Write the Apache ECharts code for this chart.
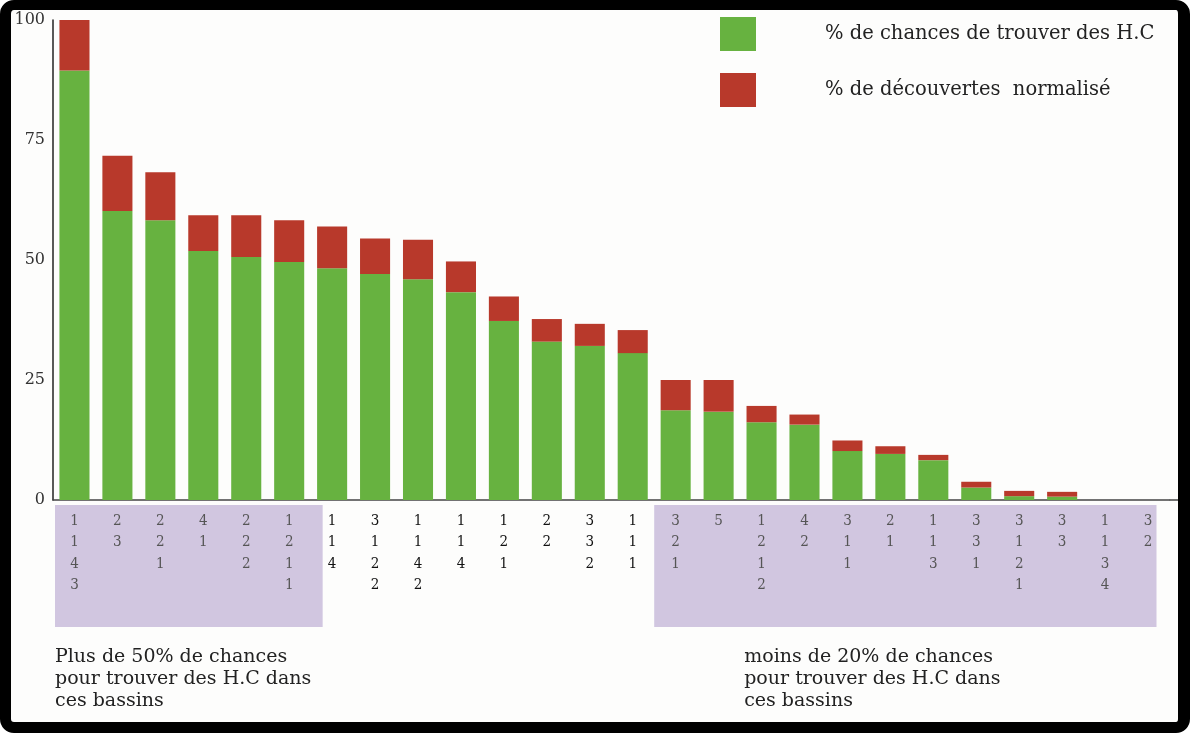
<!DOCTYPE html>
<html>
<head>
<meta charset="utf-8">
<script src="https://cdn.jsdelivr.net/npm/echarts@6/dist/echarts.min.js"></script>
<style>
  html, body { margin: 0; padding: 0; background: #ffffff; }
  #frame { position: absolute; left: 0; top: 0; width: 1190px; height: 733px; box-sizing: border-box;
           border-style: solid; border-color: #000; border-width: 10px 12px 11px 11px; border-radius: 14px; background: #fdfdfc; }
  #chart { position: absolute; left: 0; top: 0; width: 1190px; height: 733px; }
</style>
</head>
<body>
<div id="frame"></div>
<div id="chart"></div>
<script>
// Basin code labels (one digit per line)
const categories = ['1\n1\n4\n3','2\n3','2\n2\n1','4\n1','2\n2\n2','1\n2\n1\n1','1\n1\n4','3\n1\n2\n2','1\n1\n4\n2','1\n1\n4','1\n2\n1','2\n2','3\n3\n2','1\n1\n1','3\n2\n1','5','1\n2\n1\n2','4\n2','3\n1\n1','2\n1','1\n1\n3','3\n3\n1','3\n1\n2\n1','3\n3','1\n1\n3\n4','3\n2'];
// % de chances de trouver des H.C (green)
const chances = [89.5, 60.2, 58.3, 51.9, 50.6, 49.6, 48.3, 47.1, 46.0, 43.3, 37.3, 33.0, 32.1, 30.6, 18.7, 18.4, 16.2, 15.7, 10.2, 9.6, 8.3, 2.6, 0.8, 0.7, 0, 0];
// % de découvertes normalisé (red, stacked)
const decouvertes = [10.5, 11.5, 10.0, 7.4, 8.7, 8.7, 8.7, 7.4, 8.2, 6.4, 5.1, 4.7, 4.6, 4.8, 6.3, 6.6, 3.4, 2.1, 2.2, 1.6, 1.1, 1.2, 1.1, 1.0, 0, 0];
const yTicks = [0, 25, 50, 75, 100];
const seriesNames = ['% de chances de trouver des H.C', '% de découvertes  normalisé'];
const leftGroup = [0, 5];    // highlighted basins, >50%
const rightGroup = [14, 25]; // highlighted basins, <20%
const noteLeft = 'Plus de 50% de chances\npour trouver des H.C dans\nces bassins';
const noteRight = 'moins de 20% de chances\npour trouver des H.C dans\nces bassins';

const GREEN = '#67b240', RED = '#b8392b';
const inGroup = i => (i >= leftGroup[0] && i <= leftGroup[1]) || (i >= rightGroup[0] && i <= rightGroup[1]);

const chart = echarts.init(document.getElementById('chart'), null, { renderer: 'canvas' });
const option = {
  animation: false,
  backgroundColor: 'transparent',
  grid: { left: 53, right: 20.5, top: 20, bottom: 233, containLabel: false },
  legend: {
    orient: 'vertical', left: 715, top: 12, itemWidth: 36, itemHeight: 34, itemGap: 22,
    icon: 'rect', selectedMode: false,
    textStyle: { fontFamily: 'DejaVu Serif', fontSize: 19.5, color: '#222', padding: [0, 0, 0, 64] },
    data: [
      { name: seriesNames[0] },
      { name: seriesNames[1], textStyle: { padding: [0, 0, 16, 64] } }
    ]
  },
  xAxis: {
    type: 'category',
    data: categories.map((c, i) => ({ value: c, textStyle: { color: inGroup(i) ? '#555' : '#111' } })),
    axisLine: { lineStyle: { color: '#444', width: 1.5 } },
    axisTick: { show: false },
    axisLabel: { interval: 0, margin: 10, fontFamily: "'DejaVu Serif Condensed', 'Liberation Serif', serif", fontSize: 15, lineHeight: 21.5, verticalAlign: 'top' }
  },
  yAxis: {
    type: 'value', min: 0, max: 100, interval: 25,
    axisLine: { show: true, lineStyle: { color: '#222', width: 1.5 } },
    axisTick: { show: false },
    splitLine: { show: false },
    axisLabel: { margin: 8, fontFamily: 'DejaVu Serif', fontSize: 16, color: '#333',
      formatter: v => yTicks.includes(v) ? String(v) : '' }
  },
  series: [
    { name: seriesNames[0], type: 'bar', stack: 'a', data: chances, barWidth: '70%',
      itemStyle: { color: GREEN } },
    { name: seriesNames[1], type: 'bar', stack: 'a', data: decouvertes, barWidth: '70%',
      itemStyle: { color: RED } }
  ]
};
chart.setOption(option);

// Highlight boxes and notes positioned from the category axis scale
function cx(i) { return chart.convertToPixel({ xAxisIndex: 0 }, i); }
const band = cx(1) - cx(0);
const y0 = chart.convertToPixel({ yAxisIndex: 0 }, 0);
const boxTop = y0 + 5, boxH = 122;
const lx1 = cx(leftGroup[0]) - band / 2 + 2, lx2 = cx(leftGroup[1]) + band / 2 + 12;
const rx1 = cx(rightGroup[0]) - band / 2, rx2 = cx(rightGroup[1]) + band / 2 - 13;
chart.setOption({
  graphic: [
    { type: 'rect', z: -10, shape: { x: lx1, y: boxTop, width: lx2 - lx1, height: boxH }, style: { fill: '#d1c6e0' }, silent: true },
    { type: 'rect', z: -10, shape: { x: rx1, y: boxTop, width: rx2 - rx1, height: boxH }, style: { fill: '#d1c6e0' }, silent: true },
    { type: 'line', z: 1, shape: { x1: cx(categories.length - 1) + band / 2, y1: y0, x2: 1178, y2: y0 }, style: { stroke: '#444', lineWidth: 1.5 } },
    { type: 'text', left: lx1, top: y0 + 146, style: { text: noteLeft, fontFamily: 'DejaVu Serif', fontSize: 19, lineHeight: 22, fill: '#222' } },
    { type: 'text', left: rx1 + 90, top: y0 + 146, style: { text: noteRight, fontFamily: 'DejaVu Serif', fontSize: 19, lineHeight: 22, fill: '#222' } }
  ]
});
</script>
</body>
</html>
